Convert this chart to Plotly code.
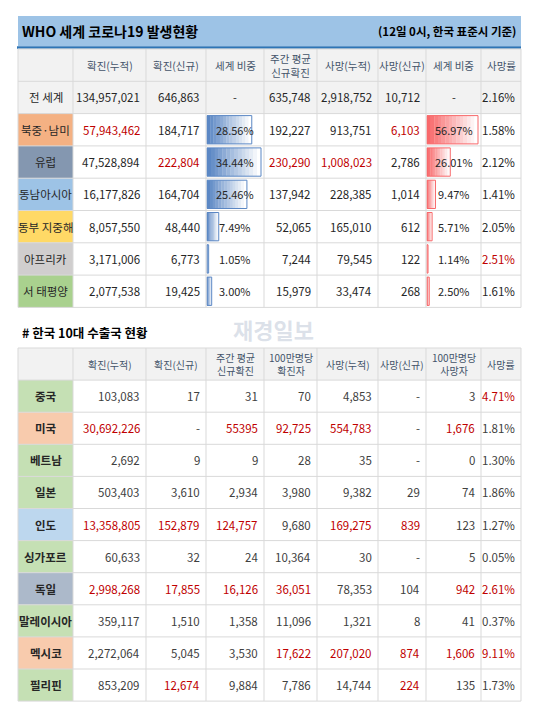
import plotly.graph_objects as go

# ---- data: WHO regions ----
top_headers = ["확진(누적)", "확진(신규)", "세계 비중", "주간 평균<br>신규확진", "사망(누적)", "사망(신규)", "세계 비중", "사망률"]
regions = ["전 세계", "북중·남미", "유럽", "동남아시아", "동부 지중해", "아프리카", "서 태평양"]
conf_total = ["134,957,021", "57,943,462", "47,528,894", "16,177,826", "8,057,550", "3,171,006", "2,077,538"]
conf_new = ["646,863", "184,717", "222,804", "164,704", "48,440", "6,773", "19,425"]
conf_share = [None, 28.56, 34.44, 25.46, 7.49, 1.05, 3.00]
weekly_avg = ["635,748", "192,227", "230,290", "137,942", "52,065", "7,244", "15,979"]
death_total = ["2,918,752", "913,751", "1,008,023", "228,385", "165,010", "79,545", "33,474"]
death_new = ["10,712", "6,103", "2,786", "1,014", "612", "122", "268"]
death_share = [None, 56.97, 26.01, 9.47, 5.71, 1.14, 2.50]
death_rate = ["2.16%", "1.58%", "2.12%", "1.41%", "2.05%", "2.51%", "1.61%"]
region_colors = ["#f2f2f2", "#f4b183", "#8497b0", "#9dc3e6", "#ffd966", "#d0cece", "#a9d18e"]
# red-highlighted cells (row, col)
top_red = [(1, 0), (2, 1), (2, 3), (2, 4), (1, 5), (5, 7)]

# ---- data: Korea top-10 export partners ----
bot_headers = ["확진(누적)", "확진(신규)", "주간 평균<br>신규확진", "100만명당<br>확진자", "사망(누적)", "사망(신규)", "100만명당<br>사망자", "사망률"]
countries = ["중국", "미국", "베트남", "일본", "인도", "싱가포르", "독일", "말레이시아", "멕시코", "필리핀"]
c_conf_total = ["103,083", "30,692,226", "2,692", "503,403", "13,358,805", "60,633", "2,998,268", "359,117", "2,272,064", "853,209"]
c_conf_new = ["17", "-", "9", "3,610", "152,879", "32", "17,855", "1,510", "5,045", "12,674"]
c_weekly = ["31", "55395", "9", "2,934", "124,757", "24", "16,126", "1,358", "3,530", "9,884"]
c_per_million = ["70", "92,725", "28", "3,980", "9,680", "10,364", "36,051", "11,096", "17,622", "7,786"]
c_death_total = ["4,853", "554,783", "35", "9,382", "169,275", "30", "78,353", "1,321", "207,020", "14,744"]
c_death_new = ["-", "-", "-", "29", "839", "-", "104", "8", "874", "224"]
c_death_per_million = ["3", "1,676", "0", "74", "123", "5", "942", "41", "1,606", "135"]
c_death_rate = ["4.71%", "1.81%", "1.30%", "1.86%", "1.27%", "0.05%", "2.61%", "0.37%", "9.11%", "1.73%"]
country_colors = ["#c5e0b4", "#f8cbad", "#c5e0b4", "#c5e0b4", "#bdd7ee", "#c5e0b4", "#acb9ca", "#c5e0b4", "#f8cbad", "#c5e0b4"]
bot_red = [(0, 7), (1, 0), (1, 2), (1, 3), (1, 4), (1, 6), (4, 0), (4, 1), (4, 2), (4, 4), (4, 5),
           (6, 0), (6, 1), (6, 2), (6, 3), (6, 6), (6, 7), (8, 3), (8, 4), (8, 5), (8, 6), (8, 7),
           (9, 1), (9, 5)]

# ---- layout constants ----
FONT = "Noto Sans CJK KR"
col_x = [10, 65, 138, 198, 256, 309, 370, 418, 473, 513]
RED = "#c00000"
GRID = "#d9d9d9"

shapes, annots = [], []


def rect(x0, y0, x1, y1, fill, line=None, lw=0):
    shapes.append(dict(type="rect", x0=x0, y0=y0, x1=x1, y1=y1, fillcolor=fill,
                       line=dict(color=line or fill, width=lw), layer="below"))


def text(x, y, s, anchor="center", color="#262626", size=11, bold=False):
    if bold:
        s = "<b>" + s + "</b>"
    annots.append(dict(x=x, y=y, text=s, xanchor=anchor, yanchor="middle", showarrow=False,
                       font=dict(family=FONT, size=size, color=color)))


def grid(y0, y1, n):
    h = (y1 - y0) / n
    for i in range(n + 1):
        shapes.append(dict(type="line", x0=col_x[0], x1=col_x[-1], y0=y0 + i * h, y1=y0 + i * h,
                           line=dict(color=GRID, width=1)))
    for x in col_x:
        shapes.append(dict(type="line", x0=x, x1=x, y0=y0, y1=y1, line=dict(color=GRID, width=1)))


def gradient_bar(x0, y0, x1, y1, c_dark, c_light, border):
    n = 14
    w = (x1 - x0) / n
    r0, g0, b0 = [int(c_dark[i:i + 2], 16) for i in (1, 3, 5)]
    r1, g1, b1 = [int(c_light[i:i + 2], 16) for i in (1, 3, 5)]
    for i in range(n):
        t = i / (n - 1)
        c = "rgb(%d,%d,%d)" % (r0 + (r1 - r0) * t, g0 + (g1 - g0) * t, b0 + (b1 - b0) * t)
        rect(x0 + i * w, y0, x0 + (i + 1) * w + 0.3, y1, c)
    shapes.append(dict(type="rect", x0=x0, y0=y0, x1=x1, y1=y1, line=dict(color=border, width=1),
                       fillcolor="rgba(0,0,0,0)", layer="below"))


# ---- top table ----
rect(10, 8, 513, 38, "#9dc3e6")
shapes.append(dict(type="line", x0=9, x1=513, y0=39.5, y1=39.5, line=dict(color="#2e75b6", width=2.5)))
text(12, 23, "WHO 세계 코로나19 발생현황", "left", "#000000", 14, True)
text(510, 23, "(12일 0시, 한국 표준시 기준)", "right", "#000000", 11.5, True)

hy0, row_h = 41, 32.3
rect(10, hy0, 513, hy0 + row_h * 2, "#f2f2f2")
for j, h in enumerate(top_headers):
    text((col_x[j + 1] + col_x[j + 2]) / 2, hy0 + row_h / 2, h, color="#44546a", size=10.5)

cols = [conf_total, conf_new, None, weekly_avg, death_total, death_new, None, death_rate]
for i, reg in enumerate(regions):
    y0 = hy0 + row_h * (i + 1)
    yc = y0 + row_h / 2
    rect(10, y0, 65, y0 + row_h, region_colors[i])
    text(37.5, yc, reg, color="#262626", size=11.5)
    for j in range(8):
        xl, xr = col_x[j + 1], col_x[j + 2]
        if j in (2, 6):
            share = conf_share if j == 2 else death_share
            v = share[i]
            if v is None:
                text((xl + xr) / 2, yc, "-")
                continue
            mx = max(s for s in share if s is not None)
            wmax = (xr - xl) - 4
            if j == 2:
                gradient_bar(xl + 1, y0 + 2, xl + 1 + wmax * v / mx, y0 + row_h - 2, "#5b87c4", "#ffffff", "#5b87c4")
            else:
                gradient_bar(xl + 1, y0 + 2, xl + 1 + wmax * v / mx, y0 + row_h - 2, "#f8696b", "#ffffff", "#f8696b")
            text((xl + xr) / 2, yc, "%.2f%%" % v)
        else:
            col = RED if (i, j) in top_red else "#262626"
            text(xr - 4, yc, cols[j][i], "right", col, 11.5)
grid(hy0, hy0 + row_h * 8, 8)

# ---- bottom table ----
text(12, 324, "# 한국 10대 수출국 현황", "left", "#000000", 12.5, True)
text(265, 321, "재경일보", "center", "rgba(190,200,215,0.55)", 22, True)

by0, brow = 340, 32.1
rect(10, by0, 513, by0 + brow, "#f2f2f2")
for j, h in enumerate(bot_headers):
    text((col_x[j + 1] + col_x[j + 2]) / 2, by0 + brow / 2, h, color="#44546a", size=10)

bcols = [c_conf_total, c_conf_new, c_weekly, c_per_million, c_death_total, c_death_new, c_death_per_million, c_death_rate]
for i, c in enumerate(countries):
    y0 = by0 + brow * (i + 1)
    yc = y0 + brow / 2
    rect(10, y0, 65, y0 + brow, country_colors[i])
    text(37.5, yc, c, color="#262626", size=11.5, bold=True)
    for j in range(8):
        col = RED if (i, j) in bot_red else "#404040"
        text(col_x[j + 2] - 4, yc, bcols[j][i], "right", col, 11.5)
grid(by0, by0 + brow * 11, 11)

fig = go.Figure()
fig.add_trace(go.Scatter(x=[0, 546], y=[0, 702], mode="markers", marker=dict(opacity=0), hoverinfo="skip"))
fig.update_layout(
    width=546, height=702, margin=dict(l=0, r=0, t=0, b=0),
    paper_bgcolor="white", plot_bgcolor="white", showlegend=False,
    xaxis=dict(range=[0, 546], visible=False, fixedrange=True),
    yaxis=dict(range=[702, 0], visible=False, fixedrange=True),
    shapes=shapes, annotations=annots,
)
fig.write_html("out.html")
